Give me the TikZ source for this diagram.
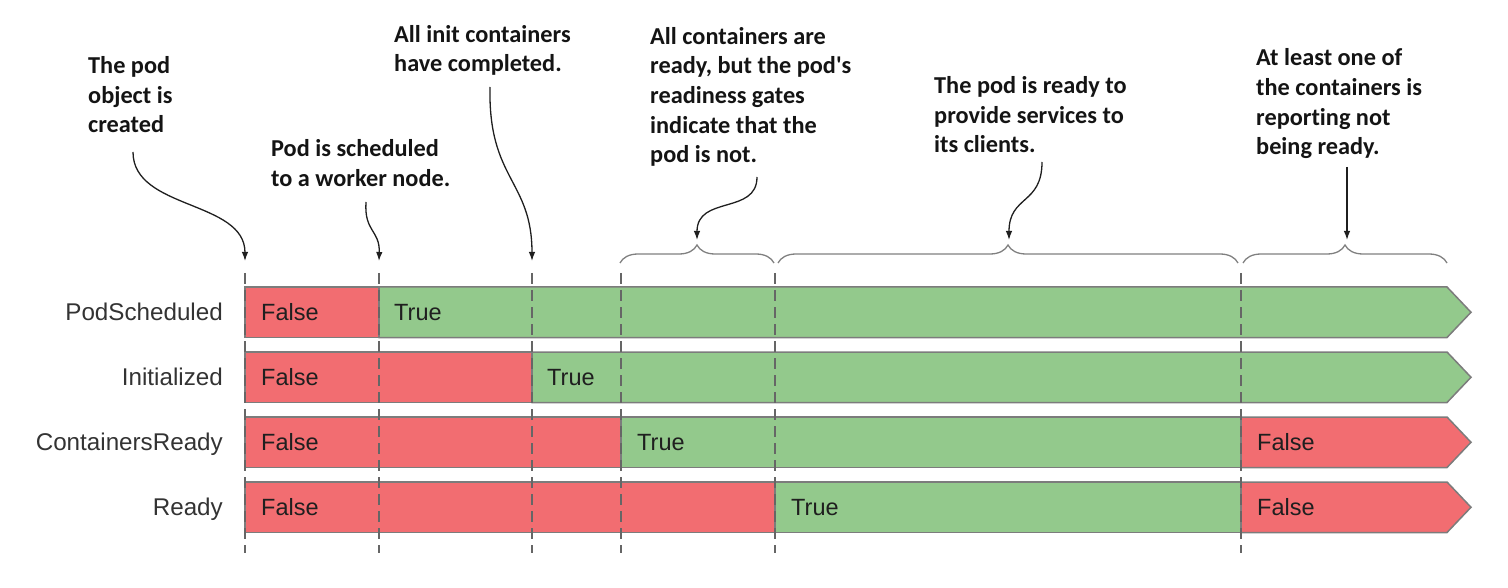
\documentclass[tikz,border=0pt]{standalone}
\usepackage{fontspec}
\setmainfont{Carlito}[Ligatures={NoCommon,TeX}]
\newfontfamily\arialf{Liberation Sans}
\usetikzlibrary{decorations.pathreplacing,arrows.meta}
\definecolor{bred}{HTML}{F26D71}
\definecolor{bgreen}{HTML}{93C98C}
\definecolor{bline}{HTML}{7C7C7C}
\begin{document}
\begin{tikzpicture}[x=1pt,y=-1pt,
  callout/.style={font=\fontsize{24.3}{29.7}\selectfont\bfseries, text=black!92, align=left, anchor=base west, inner sep=0pt},
  rowlabel/.style={font=\arialf\fontsize{24.2}{28}\selectfont, text=black!80, anchor=base east, inner sep=0pt},
  val/.style={font=\arialf\fontsize{23.5}{28}\selectfont, text=black!88, anchor=base west, inner sep=0pt},
  seg/.style={draw=bline, line width=1.5pt},
  tick/.style={draw=black!60, line width=1.2pt, dash pattern=on 11pt off 6pt},
  pointer/.style={draw=black!88, line width=1.3pt, -{Latex[length=9pt,width=6.5pt]}},
  bracket/.style={draw=black!50, line width=1.3pt, decorate, decoration={brace,amplitude=18pt}}
]
\useasboundingbox (0,0) rectangle (1508,588);

% ---- bars ----
% row 1: PodScheduled
\path[seg,fill=bred] (245,287) rectangle (379,337.5);
\path[seg,fill=bgreen] (379,287) -- (1447,287) -- (1471,312.25) -- (1447,337.5) -- (379,337.5) -- cycle;
% row 2: Initialized
\path[seg,fill=bred] (245,352) rectangle (532,402.5);
\path[seg,fill=bgreen] (532,352) -- (1447,352) -- (1471,377.25) -- (1447,402.5) -- (532,402.5) -- cycle;
% row 3: ContainersReady
\path[seg,fill=bred] (245,417) rectangle (621,467.5);
\path[seg,fill=bgreen] (621,417) rectangle (1241,467.5);
\path[seg,fill=bred] (1241,417) -- (1447,417) -- (1471,442.25) -- (1447,467.5) -- (1241,467.5) -- cycle;
% row 4: Ready
\path[seg,fill=bred] (245,482) rectangle (775,532.5);
\path[seg,fill=bgreen] (775,482) rectangle (1241,532.5);
\path[seg,fill=bred] (1241,482) -- (1447,482) -- (1471,507.25) -- (1447,532.5) -- (1241,532.5) -- cycle;

% ---- dashed time markers ----
\foreach \xx in {245,379,532,621,775,1241}
  \draw[tick] (\xx,273) -- (\xx,553);

% ---- row labels ----
\node[rowlabel] (l1) at (223,320.6) {PodScheduled};
\node[rowlabel] (l2) at (223,385.6) {Initialized};
\node[rowlabel] (l3) at (223,450.6) {ContainersReady};
\node[rowlabel] (l4) at (223,515.6) {Ready};

% ---- values ----
\node[val] (v11) at (261,320.6) {False};
\node[val] (v12) at (394,320.6) {True};
\node[val] (v21) at (261,385.6) {False};
\node[val] (v22) at (547,385.6) {True};
\node[val] (v31) at (261,450.6) {False};
\node[val] (v32) at (637,450.6) {True};
\node[val] (v33) at (1257,450.6) {False};
\node[val] (v41) at (261,515.6) {False};
\node[val] (v42) at (791,515.6) {True};
\node[val] (v43) at (1257,515.6) {False};

% ---- braces ----
\draw[bracket] (620,263) -- (774,263);
\draw[bracket] (778,263) -- (1238,263);
\draw[bracket] (1243,263) -- (1447,263);

% ---- callouts (anchored at the baseline of their last line) ----
\node[callout] (c1) at (88,133) {The pod\\object is\\created};
\node[callout] (c2) at (271,186.5) {Pod is scheduled\\to a worker node.};
\node[callout] (c3) at (394,72) {All init containers\\have completed.};
\node[callout] (c4) at (650,163) {All containers are\\ready, but the pod\textquotesingle s\\readiness gates\\indicate that the\\pod is not.};
\node[callout] (c5) at (934,153) {The pod is ready to\\provide services to\\its clients.};
\node[callout] (c6) at (1256,155) {At least one of\\the containers is\\reporting not\\being ready.};

% ---- pointer ends ----
\coordinate (s1) at (133,152);  \coordinate (e1) at (245,261);
\coordinate (s2) at (366,202);  \coordinate (e2) at (379,261);
\coordinate (s3) at (490,87);   \coordinate (e3) at (532,261);
\coordinate (s4) at (757,177);  \coordinate (e4) at (697,240);
\coordinate (s5) at (1042,162); \coordinate (e5) at (1009,240);
\coordinate (s6) at (1347,167); \coordinate (e6) at (1347,240);

\draw[pointer] (s1) .. controls (133,210) and (245,200) .. (e1);
\draw[pointer] (s2) .. controls (364,232) and (380,230) .. (e2);
\draw[pointer] (s3) .. controls (488,180) and (532,180) .. (e3);
\draw[pointer] (s4) .. controls (757,215) and (697,195) .. (e4);
\draw[pointer] (s5) .. controls (1042,205) and (1009,195) .. (e5);
\draw[pointer] (s6) -- (e6);
\end{tikzpicture}
\end{document}
